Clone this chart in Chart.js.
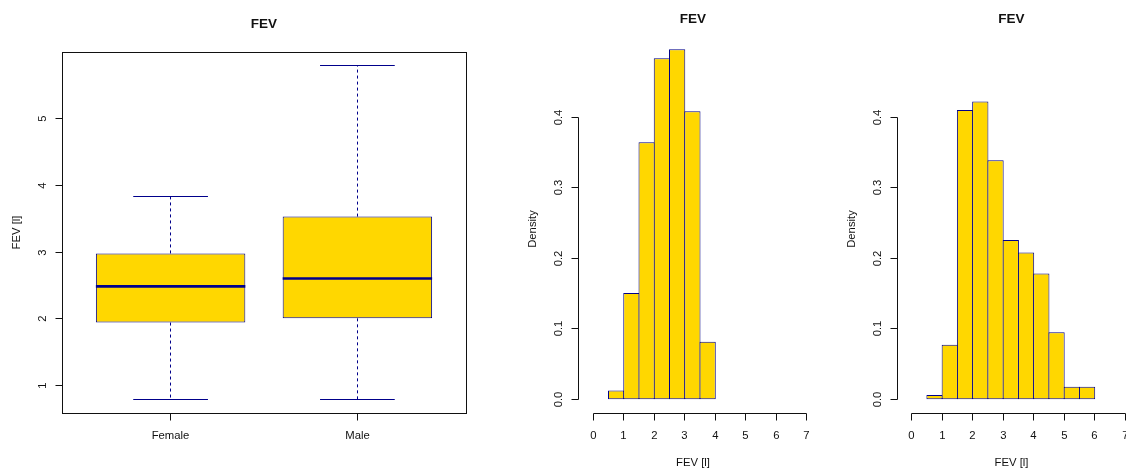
<!DOCTYPE html>
<html>
<head>
<meta charset="utf-8">
<title>FEV</title>
<script src="https://cdn.jsdelivr.net/npm/chart.js@4/dist/chart.umd.min.js"></script>
<style>
  html, body { margin: 0; padding: 0; background: #fff; }
  #wrap { position: relative; width: 1126px; height: 468px; }
  #wrap canvas { position: absolute; left: 0; top: 0; }
</style>
</head>
<body>
<div id="wrap">
  <canvas id="boxChart" width="1126" height="468"></canvas>
  <canvas id="femaleHist" width="1126" height="468"></canvas>
  <canvas id="maleHist" width="1126" height="468"></canvas>
</div>
<script>
// FEV by sex, boxplot summary: min, lower quartile, median, upper quartile, max
const groups = ['Female', 'Male'];
const fevMin = [0.791, 0.796];
const fevQ1 = [1.945, 2.008];
const fevMedian = [2.486, 2.605];
const fevQ3 = [2.979, 3.530];
const fevMax = [3.835, 5.793];

// histogram bins (litres) and densities
const femaleBreaks = [0.5, 1, 1.5, 2, 2.5, 3, 3.5, 4];
const femaleDensity = [0.0126, 0.1509, 0.3648, 0.4843, 0.4969, 0.4088, 0.0818];
const maleBreaks = [0.5, 1, 1.5, 2, 2.5, 3, 3.5, 4, 4.5, 5, 5.5, 6];
const maleDensity = [0.0060, 0.0774, 0.4107, 0.4226, 0.3393, 0.2262, 0.2083, 0.1786, 0.0952, 0.0179, 0.0179];

// axis ticks
const boxTicksX = [1, 2];
const boxTicksY = [1, 2, 3, 4, 5];
const histTicksX = [0, 1, 2, 3, 4, 5, 6, 7];
const histTicksY = [0, 0.1, 0.2, 0.3, 0.4];

const GOLD = '#FFD700';
const NAVY = '#00008B';
const INK = '#111111';
const FONT = '"Liberation Sans", Arial, Helvetica, sans-serif';
const TICK_FONT = '11.3px ' + FONT;

function crisp(v) {
    return Math.round(v - 0.5) + 0.5;
}

function fixedTicks(values) {
    return function (scale) {
        scale.ticks = values.map(v => ({ value: v }));
    };
}

// base-graphics style axes: title, axis lines over the tick range, outside ticks, rotated y labels
const rAxes = {
    id: 'rAxes',
    afterDraw(chart, args, opts) {
        const ctx = chart.ctx;
        const xs = chart.scales.x;
        const ys = chart.scales.y;
        const a = chart.chartArea;
        const axX = crisp(a.left);
        const axY = crisp(a.bottom);

        ctx.save();
        ctx.strokeStyle = INK;
        ctx.fillStyle = INK;
        ctx.lineWidth = 1;

        if (opts.frame) {
            ctx.strokeRect(axX, crisp(a.top), Math.round(a.right - a.left), Math.round(a.bottom - a.top));
        }

        // x axis
        const xp = opts.xTicks.map(v => crisp(xs.getPixelForValue(v)));
        ctx.beginPath();
        ctx.moveTo(xp[0], axY);
        ctx.lineTo(xp[xp.length - 1], axY);
        xp.forEach(p => {
            ctx.moveTo(p, axY);
            ctx.lineTo(p, axY + 7);
        });
        ctx.stroke();

        ctx.font = TICK_FONT;
        ctx.textAlign = 'center';
        ctx.textBaseline = 'alphabetic';
        xp.forEach((p, i) => ctx.fillText(opts.xLabels[i], p, a.bottom + 25.5));

        // y axis
        const yp = opts.yTicks.map(v => crisp(ys.getPixelForValue(v)));
        ctx.beginPath();
        ctx.moveTo(axX, yp[0]);
        ctx.lineTo(axX, yp[yp.length - 1]);
        yp.forEach(p => {
            ctx.moveTo(axX, p);
            ctx.lineTo(axX - 7, p);
        });
        ctx.stroke();

        yp.forEach((p, i) => {
            ctx.save();
            ctx.translate(a.left - 16, p);
            ctx.rotate(-Math.PI / 2);
            ctx.fillText(opts.yLabels[i], 0, 0);
            ctx.restore();
        });

        // axis titles
        if (opts.xTitle) {
            ctx.fillText(opts.xTitle, (a.left + a.right) / 2, a.bottom + 52.5);
        }
        ctx.save();
        ctx.translate(a.left - 42.5, opts.yTitleCenter || (a.top + a.bottom) / 2);
        ctx.rotate(-Math.PI / 2);
        ctx.fillText(opts.yTitle, 0, 0);
        ctx.restore();

        // main title
        ctx.font = 'bold 13.5px ' + FONT;
        ctx.fillText(opts.title, (a.left + a.right) / 2, opts.titleY);
        ctx.restore();
    }
};

// whiskers, caps and medians for the boxplot
const boxParts = {
    id: 'boxParts',
    beforeDatasetsDraw(chart) {
        const ctx = chart.ctx;
        const xs = chart.scales.x;
        const ys = chart.scales.y;
        ctx.save();
        ctx.strokeStyle = NAVY;
        ctx.lineWidth = 1;
        groups.forEach((g, i) => {
            const cx = crisp(xs.getPixelForValue(i + 1));
            const c0 = xs.getPixelForValue(i + 1 - 0.2);
            const c1 = xs.getPixelForValue(i + 1 + 0.2);
            ctx.setLineDash([3, 3]);
            ctx.beginPath();
            ctx.moveTo(cx, ys.getPixelForValue(fevQ3[i]));
            ctx.lineTo(cx, ys.getPixelForValue(fevMax[i]));
            ctx.moveTo(cx, ys.getPixelForValue(fevQ1[i]));
            ctx.lineTo(cx, ys.getPixelForValue(fevMin[i]));
            ctx.stroke();
            ctx.setLineDash([]);
            ctx.beginPath();
            const yTop = crisp(ys.getPixelForValue(fevMax[i]));
            const yBot = crisp(ys.getPixelForValue(fevMin[i]));
            ctx.moveTo(c0, yTop);
            ctx.lineTo(c1, yTop);
            ctx.moveTo(c0, yBot);
            ctx.lineTo(c1, yBot);
            ctx.stroke();
        });
        ctx.restore();
    },
    afterDatasetsDraw(chart) {
        const ctx = chart.ctx;
        const xs = chart.scales.x;
        const ys = chart.scales.y;
        ctx.save();
        ctx.strokeStyle = NAVY;
        ctx.lineWidth = 2.6;
        groups.forEach((g, i) => {
            const y = ys.getPixelForValue(fevMedian[i]);
            ctx.beginPath();
            ctx.moveTo(xs.getPixelForValue(i + 1 - 0.4), y);
            ctx.lineTo(xs.getPixelForValue(i + 1 + 0.4), y);
            ctx.stroke();
        });
        ctx.restore();
    }
};

const common = {
    responsive: false,
    animation: false,
    events: [],
    plugins: {
        legend: { display: false },
        tooltip: { enabled: false }
    }
};

new Chart(document.getElementById('boxChart'), {
    type: 'bar',
    data: {
        datasets: [{
            data: groups.map((g, i) => ({ x: i + 1, y: [fevQ1[i], fevQ3[i]] })),
            backgroundColor: GOLD,
            borderColor: NAVY,
            borderWidth: 1,
            borderSkipped: false,
            inflateAmount: 0,
            barPercentage: 0.8,
            categoryPercentage: 1
        }]
    },
    options: {
        ...common,
        layout: { padding: { left: 62, right: 660, top: 52, bottom: 55 } },
        scales: {
            x: { type: 'linear', display: false, offset: false, min: 0.4186, max: 2.5814, afterBuildTicks: fixedTicks(boxTicksX) },
            y: { display: false, min: 0.592, max: 5.992, afterBuildTicks: fixedTicks(boxTicksY) }
        },
        plugins: {
            ...common.plugins,
            rAxes: {
                title: 'FEV', titleY: 28.3, frame: true,
                xTicks: boxTicksX, xLabels: groups,
                yTicks: boxTicksY, yLabels: boxTicksY.map(String),
                yTitle: 'FEV [l]'
            }
        }
    },
    plugins: [boxParts, rAxes]
});

function histChart(id, breaks, density, pad, xMin, xMax) {
    const pts = density.map((d, i) => ({ x: (breaks[i] + breaks[i + 1]) / 2, y: d }));
    return new Chart(document.getElementById(id), {
        type: 'bar',
        data: {
            datasets: [{
                data: pts,
                backgroundColor: GOLD,
                borderColor: NAVY,
                borderWidth: 1,
                borderSkipped: false,
                inflateAmount: 0,
                barPercentage: 1.066,
                categoryPercentage: 1
            }]
        },
        options: {
            ...common,
            layout: { padding: pad },
            scales: {
                x: { type: 'linear', display: false, offset: false, min: xMin, max: xMax, afterBuildTicks: fixedTicks(histTicksX) },
                y: { display: false, min: -0.0195, max: 0.52, afterBuildTicks: fixedTicks(histTicksY) }
            },
            plugins: {
                ...common.plugins,
                rAxes: {
                    title: 'FEV', titleY: 23.3, frame: false,
                    xTicks: histTicksX, xLabels: histTicksX.map(String),
                    yTicks: histTicksY, yLabels: histTicksY.map(v => v.toFixed(1)),
                    xTitle: 'FEV [l]', yTitle: 'Density', yTitleCenter: 229
                }
            }
        },
        plugins: [rAxes]
    });
}

histChart('femaleHist', femaleBreaks, femaleDensity, { left: 578, right: 318, top: 33, bottom: 55 }, -0.50, 7.04);
histChart('maleHist', maleBreaks, maleDensity, { left: 897, right: 0, top: 33, bottom: 55 }, -0.48, 7.026);
</script>
</body>
</html>
